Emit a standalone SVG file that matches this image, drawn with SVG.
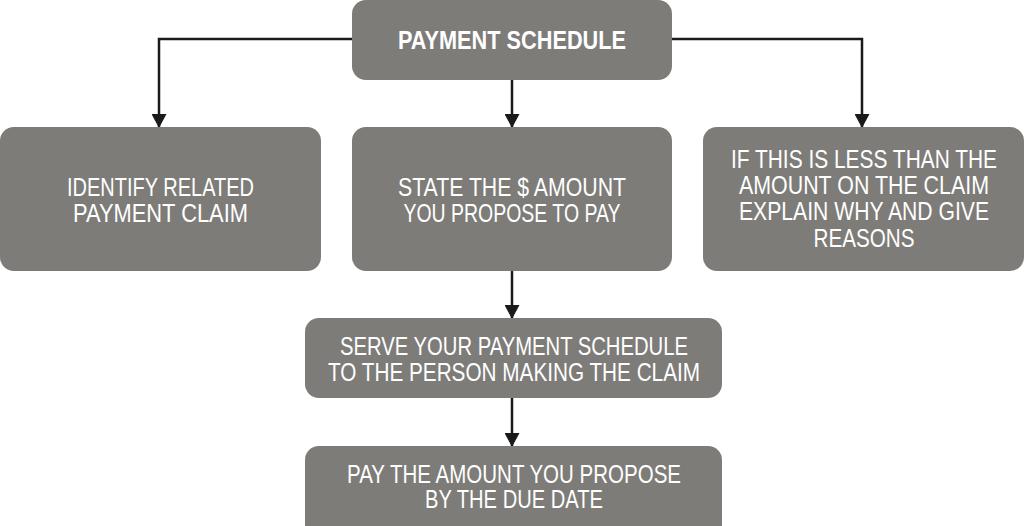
<svg xmlns="http://www.w3.org/2000/svg" width="1024" height="526" viewBox="0 0 1024 526">
<style>
.box{fill:#7d7c78}
.t{fill:#ffffff;font-family:"Liberation Sans",Arial,sans-serif;font-size:25px;text-anchor:middle}
.b{font-weight:bold}
.c{fill:none;stroke:#1a1a1a;stroke-width:2.5}
</style>
<defs>
<marker id="arr" markerWidth="14" markerHeight="15" refX="13" refY="7.5" orient="auto" markerUnits="userSpaceOnUse" viewBox="0 0 14 15">
<path d="M0,0 L14,7.5 L0,15 Z" fill="#1a1a1a"/>
</marker>
</defs>
<rect width="1024" height="526" fill="#ffffff"/>
<g id="connectors">
<path class="c" d="M352,39 H159 V127" marker-end="url(#arr)"/>
<path class="c" d="M672,39 H862 V127" marker-end="url(#arr)"/>
<path class="c" d="M512,80 V127" marker-end="url(#arr)"/>
<path class="c" d="M512,271 V318" marker-end="url(#arr)"/>
<path class="c" d="M512,398 V446" marker-end="url(#arr)"/>
</g>
<g id="payment-schedule">
<rect class="box" x="352" y="0" width="320" height="80" rx="14"/>
<text class="t b" x="512" y="49" textLength="228" lengthAdjust="spacingAndGlyphs">PAYMENT SCHEDULE</text>
</g>
<g id="identify">
<rect class="box" x="0" y="127" width="321" height="144" rx="14"/>
<text class="t" x="160.5" y="196" textLength="187" lengthAdjust="spacingAndGlyphs">IDENTIFY RELATED</text>
<text class="t" x="160.5" y="222" textLength="175" lengthAdjust="spacingAndGlyphs">PAYMENT CLAIM</text>
</g>
<g id="state-amount">
<rect class="box" x="352" y="127" width="320" height="144" rx="14"/>
<text class="t" x="512" y="196" textLength="228" lengthAdjust="spacingAndGlyphs">STATE THE $ AMOUNT</text>
<text class="t" x="512" y="222" textLength="217" lengthAdjust="spacingAndGlyphs">YOU PROPOSE TO PAY</text>
</g>
<g id="explain">
<rect class="box" x="703" y="127" width="321" height="144" rx="14"/>
<text class="t" x="864" y="168" textLength="266" lengthAdjust="spacingAndGlyphs">IF THIS IS LESS THAN THE</text>
<text class="t" x="864" y="194" textLength="250" lengthAdjust="spacingAndGlyphs">AMOUNT ON THE CLAIM</text>
<text class="t" x="864" y="220" textLength="250" lengthAdjust="spacingAndGlyphs">EXPLAIN WHY AND GIVE</text>
<text class="t" x="864" y="247" textLength="101" lengthAdjust="spacingAndGlyphs">REASONS</text>
</g>
<g id="serve">
<rect class="box" x="305" y="318" width="417" height="80" rx="14"/>
<text class="t" x="514" y="355" textLength="348" lengthAdjust="spacingAndGlyphs">SERVE YOUR PAYMENT SCHEDULE</text>
<text class="t" x="514" y="381" textLength="372" lengthAdjust="spacingAndGlyphs">TO THE PERSON MAKING THE CLAIM</text>
</g>
<g id="pay">
<rect class="box" x="305" y="446" width="417" height="96" rx="14"/>
<text class="t" x="514" y="483" textLength="334" lengthAdjust="spacingAndGlyphs">PAY THE AMOUNT YOU PROPOSE</text>
<text class="t" x="514" y="508" textLength="178" lengthAdjust="spacingAndGlyphs">BY THE DUE DATE</text>
</g>
</svg>
